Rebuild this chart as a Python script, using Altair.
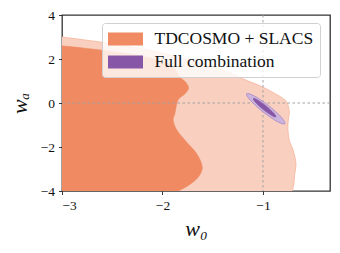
import altair as alt
import pandas as pd

# Outer TDCOSMO + SLACS contour: right boundary (w0) for each wa, from bottom to top
outer_wa = [-4.1, -4.0, -3.6, -3.3, -2.75, -2.15, -1.7, -1.2, -0.78, -0.48, -0.2, 0.05, 0.2, 0.35, 0.72, 1.1, 1.5, 2.05, 2.48, 2.77, 3.0, 3.09]
outer_w0 = [-0.71, -0.708, -0.69, -0.686, -0.672, -0.70, -0.738, -0.752, -0.748, -0.738, -0.745, -0.764, -0.80, -0.85, -1.0, -1.2, -1.4, -1.8, -2.22, -2.62, -3.0, -3.15]

# Inner contour
inner_wa = [-4.1, -4.0, -3.75, -3.37, -2.91, -2.30, -1.69, -1.2, -0.78, -0.48, 0.13, 0.4, 0.67, 0.95, 1.19, 1.77, 2.15, 2.41, 2.60, 2.7]
inner_w0 = [-1.89, -1.843, -1.743, -1.644, -1.604, -1.66, -1.776, -1.86, -1.893, -1.876, -1.846, -1.78, -1.74, -1.77, -1.83, -1.93, -2.22, -2.62, -3.0, -3.2]

# closing corners that lie outside the plotting window (clipped)
close_w0 = [-3.6, -3.6]
close_wa = [3.3, -4.6]

# Full combination ellipses (boundary points)
ell_out_w0 = [-0.781, -0.855, -0.998, -1.125, -1.164, -1.090, -0.946, -0.819]
ell_out_wa = [-0.943, -0.850, -0.410, 0.118, 0.424, 0.330, -0.109, -0.638]
ell_in_w0 = [-0.871, -0.914, -0.998, -1.074, -1.097, -1.053, -0.969, -0.894]
ell_in_wa = [-0.633, -0.568, -0.296, 0.025, 0.205, 0.139, -0.132, -0.453]

series = ["TDCOSMO + SLACS", "Full combination"]
series_colors = ["#ef8a62", "#8856a7"]

x_ticks = [-3, -2, -1]
y_ticks = [-4, -2, 0, 2, 4]
ref_w0 = [-1]
ref_wa = [0]

XDOM = [-3, -0.333]
YDOM = [-4, 4]
FONT = "Liberation Serif"

xs = alt.Scale(domain=XDOM, nice=False, zero=False)
ys = alt.Scale(domain=YDOM, nice=False, zero=False)

xax = alt.Axis(values=x_ticks, format="d", title="w₀", grid=False, domain=False,
               labelFont=FONT, titleFont=FONT)
yax = alt.Axis(values=y_ticks, format="d", title="wₐ", grid=False, domain=False,
               labelFont=FONT, titleFont=FONT, titleX=-31, titleY=88)


def polygon(w0s, was):
    pts_w0 = list(w0s) + close_w0
    pts_wa = list(was) + close_wa
    return pd.DataFrame({"w0": pts_w0, "wa": pts_wa, "i": list(range(len(pts_w0)))})


outer_df = polygon(outer_w0, outer_wa)
inner_df = polygon(inner_w0, inner_wa)
eo_df = pd.DataFrame({"w0": ell_out_w0, "wa": ell_out_wa, "i": list(range(len(ell_out_w0)))})
ei_df = pd.DataFrame({"w0": ell_in_w0, "wa": ell_in_wa, "i": list(range(len(ell_in_w0)))})

outer = alt.Chart(outer_df).mark_line(
    interpolate="cardinal-closed", fill="#f9d0c0", stroke="#f6b49a", strokeWidth=0.8, clip=True
).encode(
    x=alt.X("w0:Q", scale=xs, axis=xax),
    y=alt.Y("wa:Q", scale=ys, axis=yax),
    order=alt.Order("i:Q"),
)

inner = alt.Chart(inner_df).mark_line(
    interpolate="cardinal-closed", fill="#ef8a62", stroke="#ef8a62", strokeWidth=0.5, clip=True
).encode(
    x=alt.X("w0:Q", scale=xs),
    y=alt.Y("wa:Q", scale=ys),
    order=alt.Order("i:Q"),
)

vline = alt.Chart(pd.DataFrame({"w0": ref_w0})).mark_rule(
    color="#a0a0a0", strokeDash=[2.5, 2.5], strokeWidth=1
).encode(x=alt.X("w0:Q", scale=xs))

hline = alt.Chart(pd.DataFrame({"wa": ref_wa})).mark_rule(
    color="#a0a0a0", strokeDash=[2.5, 2.5], strokeWidth=1
).encode(y=alt.Y("wa:Q", scale=ys))

ell_out = alt.Chart(eo_df).mark_line(
    interpolate="cardinal-closed", fill="#cbb5dc", stroke="#a888c6", strokeWidth=0.8, clip=True
).encode(
    x=alt.X("w0:Q", scale=xs), y=alt.Y("wa:Q", scale=ys), order=alt.Order("i:Q")
)

ell_in = alt.Chart(ei_df).mark_line(
    interpolate="cardinal-closed", fill="#8856a7", stroke="#8856a7", strokeWidth=0.5, clip=True
).encode(
    x=alt.X("w0:Q", scale=xs), y=alt.Y("wa:Q", scale=ys), order=alt.Order("i:Q")
)

leg_df = pd.DataFrame({"series": series, "w0": [-10, -10], "wa": [-10, -10]})
legend_layer = alt.Chart(leg_df).mark_point(filled=True, clip=True, opacity=1).encode(
    x=alt.X("w0:Q", scale=xs),
    y=alt.Y("wa:Q", scale=ys),
    color=alt.Color(
        "series:N",
        scale=alt.Scale(domain=series, range=series_colors),
        sort=series,
        legend=alt.Legend(
            title=None, orient="none", legendX=40, legendY=8,
            symbolType="M-1.75,-0.65H1.75V0.65H-1.75Z", symbolSize=400,
            symbolStrokeWidth=0, symbolOpacity=1, symbolOffset=7.5,
            labelFont=FONT, labelFontSize=17.5, labelColor="#111", labelLimit=400,
            labelOffset=19, rowPadding=4, padding=6,
            fillColor="rgba(255,255,255,0.8)", strokeColor="#d0d0d0",
            cornerRadius=3,
        ),
    ),
)

chart = alt.layer(outer, inner, vline, hline, ell_out, ell_in, legend_layer).properties(
    width=268, height=176,
    autosize=alt.AutoSizeParams(type="none"),
    padding={"left": 54, "top": 7, "right": 2, "bottom": 55},
).configure(
    font=FONT
).configure_view(
    stroke="#333333", strokeWidth=1.3
).configure_axis(
    labelFont=FONT, labelFontSize=13.5, labelColor="#111",
    tickColor="#222", tickSize=3.5, tickWidth=0.9, labelPadding=4,
    titleFont=FONT, titleFontSize=22, titleFontStyle="italic",
    titleFontWeight="normal", titleColor="#111",
).configure_axisX(titlePadding=6)

chart.save("out.html", embed_options={"renderer": "svg", "actions": False})
